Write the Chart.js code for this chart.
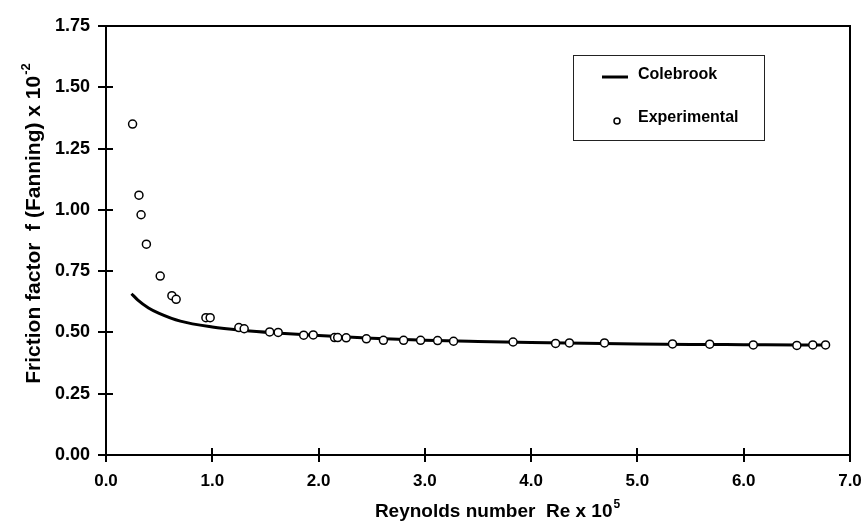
<!DOCTYPE html>
<html>
<head>
<meta charset="utf-8">
<script src="https://cdn.jsdelivr.net/npm/chart.js@4.4.1/dist/chart.umd.min.js"></script>
<style>
  html, body { margin: 0; padding: 0; background: #fff; }
  #wrap { width: 866px; height: 526px; }
</style>
</head>
<body>
<div id="wrap"><canvas id="friccion"></canvas></div>
<script>
// Datos experimentales (Re x 10^5, f x 10^2)
const reExp = [0.25, 0.31, 0.33, 0.38, 0.51, 0.62, 0.66, 0.94, 0.98, 1.25, 1.30, 1.54, 1.62,
  1.86, 1.95, 2.15, 2.18, 2.26, 2.45, 2.61, 2.80, 2.96, 3.12, 3.27, 3.83, 4.23, 4.36,
  4.69, 5.33, 5.68, 6.09, 6.50, 6.65, 6.77];
const fExp = [1.35, 1.06, 0.98, 0.86, 0.73, 0.65, 0.635, 0.56, 0.56, 0.52, 0.515, 0.502, 0.50,
  0.489, 0.49, 0.479, 0.479, 0.478, 0.474, 0.468, 0.468, 0.468, 0.467, 0.464, 0.461, 0.455, 0.457,
  0.457, 0.453, 0.452, 0.449, 0.447, 0.449, 0.449];

// Curva de Colebrook
const reCole = [0.24, 0.30, 0.40, 0.50, 0.70, 1.0, 1.3, 1.6, 2.0, 2.5, 3.0, 3.5, 4.0, 4.5,
  5.0, 5.5, 6.0, 6.5, 6.8];
const fCole = [0.658, 0.632, 0.600, 0.578, 0.546, 0.522, 0.508, 0.498, 0.487, 0.476, 0.468,
  0.463, 0.459, 0.456, 0.453, 0.451, 0.450, 0.449, 0.448];

const ticksX = [0, 1, 2, 3, 4, 5, 6, 7];
const ticksY = [0, 0.25, 0.5, 0.75, 1.0, 1.25, 1.5, 1.75];

const FUENTE = '"Liberation Sans", Arial, sans-serif';

// Marco, marcas de eje cruzadas, titulos con superindice y leyenda en caja
const marcoPlugin = {
  id: 'marco',
  afterDraw(chart) {
    const ctx = chart.ctx;
    const a = chart.chartArea;
    const sx = chart.scales.x, sy = chart.scales.y;
    ctx.save();
    ctx.strokeStyle = '#000';
    ctx.lineWidth = 2;
    ctx.strokeRect(a.left, a.top, a.right - a.left, a.bottom - a.top);

    ctx.beginPath();
    ticksX.forEach(v => {
      const px = Math.round(sx.getPixelForValue(v));
      ctx.moveTo(px, a.bottom - 7);
      ctx.lineTo(px, a.bottom + 7);
    });
    ticksY.forEach(v => {
      const py = Math.round(sy.getPixelForValue(v));
      ctx.moveTo(a.left - 8, py);
      ctx.lineTo(a.left + 7, py);
    });
    ctx.stroke();

    // titulo eje x
    ctx.fillStyle = '#000';
    ctx.textBaseline = 'alphabetic';
    ctx.textAlign = 'left';
    ctx.font = 'bold 19px ' + FUENTE;
    const tx = 'Reynolds number  Re x 10';
    const w1 = ctx.measureText(tx).width;
    ctx.font = 'bold 12px ' + FUENTE;
    const w2 = ctx.measureText('5').width;
    let x0 = 497 - (w1 + w2) / 2;
    ctx.font = 'bold 19px ' + FUENTE;
    ctx.fillText(tx, x0, 517);
    ctx.font = 'bold 12px ' + FUENTE;
    ctx.fillText('5', x0 + w1 + 1, 508);

    // titulo eje y
    ctx.save();
    ctx.translate(40, 224);
    ctx.rotate(-Math.PI / 2);
    ctx.font = 'bold 21px ' + FUENTE;
    const ty = 'Friction factor  f (Fanning) x 10';
    const v1 = ctx.measureText(ty).width;
    ctx.font = 'bold 13px ' + FUENTE;
    const v2 = ctx.measureText('-2').width;
    x0 = -(v1 + v2) / 2;
    ctx.font = 'bold 21px ' + FUENTE;
    ctx.fillText(ty, x0, 0);
    ctx.font = 'bold 13px ' + FUENTE;
    ctx.fillText('-2', x0 + v1 + 1, -10);
    ctx.restore();

    // leyenda
    const ds = chart.data.datasets;
    ctx.lineWidth = 1;
    ctx.strokeStyle = '#222';
    ctx.strokeRect(573.5, 55.5, 191, 85);
    ctx.strokeStyle = ds[0].borderColor;
    ctx.lineWidth = ds[0].borderWidth;
    ctx.beginPath();
    ctx.moveTo(602, 77);
    ctx.lineTo(628, 77);
    ctx.stroke();
    ctx.beginPath();
    ctx.arc(617, 121, 3, 0, Math.PI * 2);
    ctx.fillStyle = '#fff';
    ctx.fill();
    ctx.lineWidth = 1.5;
    ctx.strokeStyle = '#000';
    ctx.stroke();
    ctx.fillStyle = '#000';
    ctx.font = 'bold 16px ' + FUENTE;
    ctx.textBaseline = 'middle';
    ctx.fillText(ds[0].label, 638, 75);
    ctx.fillText(ds[1].label, 638, 118);
    ctx.restore();
  }
};

new Chart(document.getElementById('friccion'), {
  type: 'scatter',
  data: {
    datasets: [{
      label: 'Colebrook',
      type: 'line',
      data: reCole.map((r, i) => ({ x: r, y: fCole[i] })),
      borderColor: '#000',
      borderWidth: 3,
      pointRadius: 0,
      cubicInterpolationMode: 'monotone',
      fill: false,
      order: 2
    }, {
      label: 'Experimental',
      data: reExp.map((r, i) => ({ x: r, y: fExp[i] })),
      pointRadius: 4,
      pointBackgroundColor: '#fff',
      pointBorderColor: '#000',
      pointBorderWidth: 1.5,
      order: 1
    }]
  },
  options: {
    responsive: true,
    maintainAspectRatio: false,
    animation: false,
    layout: { padding: { top: 26, right: 16, left: 0, bottom: 0 } },
    plugins: {
      legend: { display: false },
      tooltip: { enabled: false }
    },
    scales: {
      x: {
        type: 'linear',
        min: 0, max: 7,
        afterBuildTicks: s => { s.ticks = ticksX.map(v => ({ value: v })); },
        afterFit: s => { s.height = 71; s.paddingRight = 10; s.paddingLeft = 0; },
        grid: { display: false, drawTicks: false },
        border: { display: false },
        ticks: {
          padding: 16,
          color: '#000',
          font: { family: FUENTE, size: 17, weight: 'bold' },
          callback: v => v.toFixed(1)
        }
      },
      y: {
        min: 0, max: 1.75,
        afterBuildTicks: s => { s.ticks = ticksY.map(v => ({ value: v })); },
        afterFit: s => { s.width = 106; s.paddingTop = 0; s.paddingBottom = 0; },
        grid: { display: false, drawTicks: false },
        border: { display: false },
        ticks: {
          padding: 16,
          color: '#000',
          font: { family: FUENTE, size: 18, weight: 'bold' },
          callback: v => v.toFixed(2)
        }
      }
    }
  },
  plugins: [marcoPlugin]
});
</script>
</body>
</html>
